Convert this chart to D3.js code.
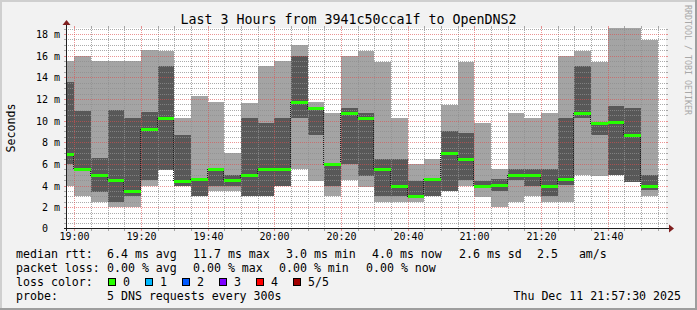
<!DOCTYPE html>
<html>
<head>
<meta charset="utf-8">
<script src="https://cdn.jsdelivr.net/npm/d3@7"></script>
<style>
  html, body { margin: 0; padding: 0; background: #f2f2f2; }
  svg { display: block; }
  text { font-family: "DejaVu Sans Mono", monospace; white-space: pre; }
</style>
</head>
<body>
<div id="chart"></div>
<script>
// Smoke data, one entry per 5 minute step (start time of the step), values in ms
const stepStarts = ["18:55","19:00","19:05","19:10","19:15","19:20","19:25","19:30","19:35","19:40","19:45","19:50",
                    "19:55","20:00","20:05","20:10","20:15","20:20","20:25","20:30","20:35","20:40","20:45","20:50",
                    "20:55","21:00","21:05","21:10","21:15","21:20","21:25","21:30","21:35","21:40","21:45","21:50"];
const rttMin    = [4.0, 3.0, 2.5, 2.0, 2.0, 4.0, 5.45, 4.0, 3.0, 3.5, 3.5, 3.0,
                   3.0, 4.0, 5.5, 4.45, 3.0, 4.5, 3.9, 2.5, 2.5, 2.5, 3.0, 3.5,
                   4.0, 2.95, 2.0, 2.5, 3.0, 2.5, 2.5, 5.0, 4.9, 5.0, 4.35, 3.0];
const rttLow    = [6.0, 5.4, 3.4, 2.5, 3.0, 4.5, 5.45, 4.0, 3.0, 4.0, 4.0, 3.0,
                   3.0, 4.0, 10.2, 8.7, 4.0, 6.0, 4.9, 3.0, 3.0, 3.0, 3.0, 3.5,
                   4.5, 3.9, 3.5, 4.5, 3.95, 3.0, 4.05, 10.2, 8.7, 5.0, 4.35, 3.55];
const rttMedian = [6.9, 5.5, 5.0, 4.5, 3.5, 9.2, 10.25, 4.4, 4.6, 5.5, 4.5, 5.0,
                   5.5, 5.55, 11.7, 11.2, 6.0, 10.7, 10.25, 5.5, 4.0, 3.0, 4.6, 7.0,
                   6.45, 3.95, 4.05, 5.0, 5.0, 4.0, 4.6, 10.7, 9.8, 9.9, 8.65, 4.0];
const rttHigh   = [13.6, 10.9, 6.55, 11.0, 10.25, 10.75, 15.0, 8.65, 4.7, 5.5, 4.95, 10.25,
                   9.75, 10.25, 16.0, 11.25, 6.0, 11.15, 10.7, 6.5, 6.45, 4.4, 4.6, 9.05,
                   8.85, 4.4, 4.6, 5.5, 5.5, 5.5, 10.25, 15.0, 9.8, 11.35, 11.15, 5.0];
const rttMax    = [15.5, 16.0, 15.5, 15.5, 15.5, 16.55, 16.4, 10.25, 12.3, 11.75, 7.0, 11.6,
                   15.0, 15.5, 17.0, 11.75, 10.7, 16.0, 16.45, 15.45, 10.25, 6.0, 6.5, 11.45,
                   15.45, 9.8, 5.5, 10.7, 10.25, 10.7, 16.0, 16.45, 15.45, 18.55, 18.55, 17.4];

const timeTicks = ["19:00","19:20","19:40","20:00","20:20","20:40","21:00","21:20","21:40"];
const valueTicks = [0, 2, 4, 6, 8, 10, 12, 14, 16, 18];
const chartStart = "18:57:30";
const chartEnd = "21:57:30";
const yMax = 18.55;

const title = "Last 3 Hours from 3941c50cca1f to OpenDNS2";
const rttLegend = ["median rtt:", "6.4 ms avg", "11.7 ms max", "3.0 ms min", "4.0 ms now", "2.6 ms sd", "2.5   am/s"];
const lossLegend = ["packet loss:", "0.00 % avg", "0.00 % max", "0.00 % min", "0.00 % now"];
const lossLabels = ["0", "1", "2", "3", "4", "5/5"];
const lossColors = ["#26ff00", "#00b8ff", "#0059ff", "#7e00ff", "#ff0000", "#a10000"];
const probeLegend = ["probe:", "5 DNS requests every 300s"];
const stamp = "Thu Dec 11 21:57:30 2025";

// Layout
const W = 697, H = 310;
const plot = { left: 66, right: 666, top: 28, bottom: 228 };

const parseT = s => d3.timeParse("%Y-%m-%d %H:%M:%S")("2025-12-11 " + (s.length === 5 ? s + ":00" : s));
const t0 = parseT(chartStart), t1 = parseT(chartEnd);

const x = d3.scaleTime().domain([t0, t1]).range([plot.left, plot.right]);
// value zero sits a little under the axis row, like rrdtool's origin
const y = d3.scaleLinear().domain([0, yMax]).range([plot.bottom + 0.9, plot.top]);
const px = v => Math.round(x(v));
const py = v => Math.round(y(v));

const svg = d3.select("#chart").append("svg")
    .attr("width", W)
    .attr("height", H)
    .attr("shape-rendering", "crispEdges");

// background and frame shading
svg.append("rect").attr("width", W).attr("height", H).attr("fill", "#f2f2f2");
svg.append("path").attr("d", `M0,0H${W}V2H2V${H}H0Z`).attr("fill", "#cfcfcf");
svg.append("path").attr("d", `M${W},${H}H0V${H - 2}H${W - 2}V0H${W}Z`).attr("fill", "#9e9e9e");

// canvas
svg.append("rect")
    .attr("x", plot.left).attr("y", plot.top)
    .attr("width", plot.right - plot.left).attr("height", plot.bottom - plot.top)
    .attr("fill", "#ffffff");

const steps = stepStarts.map((s, i) => {
    const start = parseT(s);
    const end = d3.timeMinute.offset(start, 5);
    return {
        x0: Math.max(px(start), plot.left),
        x1: Math.min(px(end), plot.right),
        min: rttMin[i], low: rttLow[i], med: rttMedian[i], high: rttHigh[i], max: rttMax[i]
    };
});

// 1px dots every other pixel, as one path of tiny squares
function dotsH(xa, xb, yy) {
    let d = "";
    for (let xx = xa; xx < xb; xx += 2) d += `M${xx},${yy}h1v1h-1z`;
    return d;
}
function dotsV(xx, ya, yb) {
    let d = "";
    for (let yy = ya; yy < yb; yy += 2) d += `M${xx},${yy}h1v1h-1z`;
    return d;
}

const smoke = svg.append("g");

// outer smoke: all pings
smoke.selectAll(".smoke-outer")
    .data(steps)
    .join("rect")
    .attr("class", "smoke-outer")
    .attr("x", d => d.x0)
    .attr("width", d => d.x1 - d.x0)
    .attr("y", d => py(d.max))
    .attr("height", d => Math.min(py(d.min), plot.bottom) - py(d.max))
    .attr("fill", "#a4a4a4");

// inner smoke: 2nd to 4th ping
smoke.selectAll(".smoke-inner")
    .data(steps)
    .join("rect")
    .attr("class", "smoke-inner")
    .attr("x", d => d.x0)
    .attr("width", d => d.x1 - d.x0)
    .attr("y", d => py(d.high))
    .attr("height", d => py(d.low) - py(d.high))
    .attr("fill", "#585858");

// grid, drawn over the smoke
const grid = svg.append("g");
const minorColor = "rgba(143,143,143,0.75)";
const majorColor = "rgba(222,79,79,0.6)";
const majorTimes = timeTicks.map(parseT);
const minorTimes = d3.timeMinute.every(5).range(t0, t1)
    .filter(t => !majorTimes.some(m => +m === +t));
const minorValues = d3.range(1, Math.floor(yMax * 2) + 1).map(k => k / 2).filter(v => !valueTicks.includes(v));

function hLines(values, color) {
    const d = values.map(v => {
        const yy = py(v);
        return dotsH(plot.left + 2, plot.right, yy) +
            `M${plot.left - 2},${yy}h2v1h-2z M${plot.right},${yy}h2v1h-2z`;
    }).join("");
    grid.append("path").attr("d", d).attr("fill", color);
}
function vLines(times, color) {
    const d = times.map(t => {
        const xx = px(t);
        return dotsV(xx, plot.top, plot.bottom) +
            `M${xx},${plot.bottom + 1}h1v2h-1z M${xx},${plot.top - 2}h1v2h-1z`;
    }).join("");
    grid.append("path").attr("d", d).attr("fill", color);
}
hLines(minorValues, minorColor);
vLines(minorTimes, minorColor);
hLines(valueTicks.filter(v => v > 0), majorColor);
vLines(majorTimes, majorColor);

const medianG = svg.append("g");

// median step line (only the vertical joins stay visible)
medianG.selectAll(".median-join")
    .data(steps.slice(1).map((d, i) => ({ x: d.x0 - 1, a: py(steps[i].med), b: py(d.med) })))
    .join("path")
    .attr("class", "median-join")
    .attr("d", d => dotsV(d.x, Math.min(d.a, d.b), Math.max(d.a, d.b) + 1))
    .attr("fill", "#202020");

// median coloured by loss (all 0 here)
medianG.selectAll(".median")
    .data(steps)
    .join("rect")
    .attr("class", "median")
    .attr("x", d => d.x0)
    .attr("width", d => d.x1 - d.x0)
    .attr("y", d => py(d.med) - 1)
    .attr("height", 3)
    .attr("fill", lossColors[0]);

// axes with arrows
const axisG = svg.append("g");
axisG.append("rect")
    .attr("x", plot.left - 2).attr("y", plot.bottom).attr("width", plot.right - plot.left + 6).attr("height", 1)
    .attr("fill", "#1f1f1f");
axisG.append("rect")
    .attr("x", plot.left).attr("y", plot.top - 4).attr("width", 1).attr("height", plot.bottom - plot.top + 7)
    .attr("fill", "#1f1f1f");
axisG.append("path")
    .attr("shape-rendering", "geometricPrecision")
    .attr("d", `M${plot.right + 3},${plot.bottom - 3.5}L${plot.right + 8},${plot.bottom + 0.5}L${plot.right + 3},${plot.bottom + 4.5}Z`)
    .attr("fill", "#801f1f");
axisG.append("path")
    .attr("shape-rendering", "geometricPrecision")
    .attr("d", `M${plot.left - 3.5},${plot.top - 3}L${plot.left + 0.5},${plot.top - 8}L${plot.left + 4.5},${plot.top - 3}Z`)
    .attr("fill", "#801f1f");

// axis labels
const timeFmt = d3.timeFormat("%H:%M");
svg.append("g").selectAll("text")
    .data(majorTimes)
    .join("text")
    .attr("x", d => px(d) + 0.5)
    .attr("y", 240)
    .attr("text-anchor", "middle")
    .attr("font-size", "10px")
    .attr("fill", "#000")
    .text(d => timeFmt(d));

svg.append("g").selectAll("text")
    .data(valueTicks)
    .join("text")
    .attr("x", 60)
    .attr("y", d => Math.min(py(d), plot.bottom) + 4)
    .attr("text-anchor", "end")
    .attr("font-size", "10px")
    .attr("fill", "#000")
    .text(d => d === 0 ? "0  " : d + " m");

// titles
svg.append("text")
    .attr("x", 348.5).attr("y", 24)
    .attr("text-anchor", "middle")
    .attr("font-size", "13.3px")
    .attr("fill", "#000")
    .text(title);

svg.append("text")
    .attr("transform", `translate(15,${(plot.top + plot.bottom) / 2}) rotate(-90)`)
    .attr("text-anchor", "middle")
    .attr("font-size", "11.6px")
    .attr("fill", "#000")
    .text("Seconds");

svg.append("text")
    .attr("transform", "translate(684.5,5) rotate(90)")
    .attr("font-size", "8.3px")
    .attr("fill", "#a8a8a8")
    .text("RRDTOOL / TOBI OETIKER");

// legend
const legend = svg.append("g").attr("font-size", "11.6px").attr("fill", "#000");
const rowY = [257.5, 271.5, 285.5, 299.5];
const rttX = [16, 107, 193, 286, 372, 459, 537];
const lossX = [16, 107, 193, 279, 366];

legend.selectAll(".rtt").data(rttLegend).join("text")
    .attr("class", "rtt").attr("x", (d, i) => rttX[i]).attr("y", rowY[0]).text(d => d);
legend.selectAll(".loss").data(lossLegend).join("text")
    .attr("class", "loss").attr("x", (d, i) => lossX[i]).attr("y", rowY[1]).text(d => d);

legend.append("text").attr("x", 16).attr("y", rowY[2]).text("loss color:");
const boxes = legend.selectAll(".lc").data(lossLabels).join("g")
    .attr("class", "lc")
    .attr("transform", (d, i) => `translate(${108 + 37 * i},278)`);
boxes.append("rect")
    .attr("x", 0.5).attr("y", 0.5).attr("width", 7).attr("height", 7)
    .attr("fill", (d, i) => lossColors[i])
    .attr("stroke", "#000");
boxes.append("text")
    .attr("x", 15).attr("y", rowY[2] - 278)
    .text(d => d);

legend.append("text").attr("x", 16).attr("y", rowY[3]).text(probeLegend[0]);
legend.append("text").attr("x", 107).attr("y", rowY[3]).text(probeLegend[1]);
legend.append("text").attr("x", 681).attr("y", rowY[3]).attr("text-anchor", "end").text(stamp);
</script>
</body>
</html>
